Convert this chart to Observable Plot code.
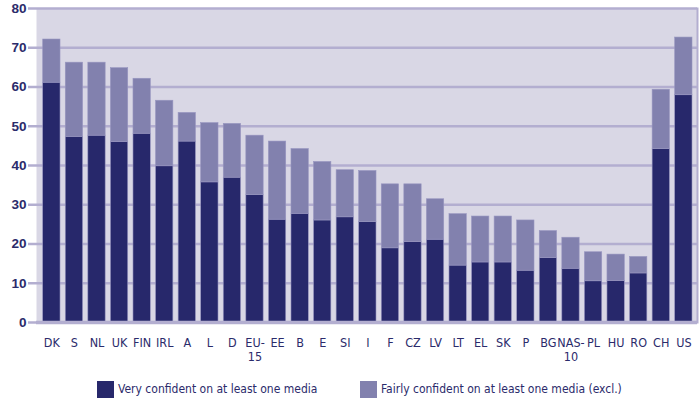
<!DOCTYPE html>
<html>
<head>
<meta charset="utf-8">
<script src="https://cdn.jsdelivr.net/npm/d3@7"></script>
<script src="https://cdn.jsdelivr.net/npm/@observablehq/plot@0.6"></script>
<style>
  html, body { margin: 0; padding: 0; background: #fff; }
  #chart { width: 700px; height: 399px; position: relative; overflow: hidden; }
  .legend { position: absolute; top: 381px; left: 0; width: 700px; height: 17px;
    font-family: "DejaVu Sans Condensed", "DejaVu Sans", sans-serif; font-stretch: condensed;
    font-size: 12px; color: #2b2b6b; }
  .legend .sw { position: absolute; top: 0; width: 17px; height: 17px; }
  .legend .lb { position: absolute; top: 1px; white-space: nowrap; }
</style>
</head>
<body>
<div id="chart"></div>
<script>
const categories = ["DK","S","NL","UK","FIN","IRL","A","L","D","EU-15","EE","B","E","SI","I","F","CZ","LV","LT","EL","SK","P","BG","NAS-10","PL","HU","RO","CH","US"];
const veryConfident = [61.1,47.3,47.6,46.0,48.1,39.8,46.1,35.7,36.9,32.5,26.2,27.7,26.0,26.8,25.6,18.9,20.5,21.1,14.5,15.3,15.3,13.2,16.4,13.7,10.5,10.6,12.5,44.2,57.9];
const fairlyConfident = [11.0,18.9,18.6,18.8,14.0,16.7,7.3,15.1,13.7,15.1,19.9,16.5,14.9,12.0,13.0,16.3,14.7,10.3,13.1,11.7,11.7,12.8,6.9,7.9,7.4,6.7,4.2,15.1,14.7];
const tickLabels = {"EU-15": "EU-\n15", "NAS-10": "NAS-\n10"};
const yTicks = [0,10,20,30,40,50,60,70,80];
const seriesNames = ["Very confident on at least one media", "Fairly confident on at least one media (excl.)"];
const colors = ["#27286b", "#8281ae"];

const data = [];
categories.forEach((c, i) => {
  data.push({country: c, series: seriesNames[0], value: veryConfident[i]});
  data.push({country: c, series: seriesNames[1], value: fairlyConfident[i]});
});

const grid = "#b3aed0";
const ink = "#2b2b6b";

const plot = Plot.plot({
  width: 700,
  height: 372,
  marginTop: 8,
  marginBottom: 50,
  marginLeft: 36,
  marginRight: 3,
  style: {fontFamily: "'DejaVu Sans Condensed', 'DejaVu Sans', sans-serif", background: "#fff"},
  x: {type: "band", domain: categories, range: [42.7, 692], paddingInner: 0.233, paddingOuter: 0, round: false},
  y: {domain: [0, 80]},
  color: {domain: seriesNames, range: colors},
  marks: [
    Plot.frame({fill: "#d9d7e5", stroke: null}),
    Plot.ruleY(yTicks.slice(1, -1), {stroke: grid, strokeWidth: 2.5}),
    Plot.barY(data, {x: "country", y: "value", fill: "series", stroke: "#9896c0", strokeWidth: 0.6, order: seriesNames}),
    Plot.ruleY([80], {stroke: grid, strokeWidth: 2.5}),
    Plot.ruleY([0], {stroke: grid, strokeWidth: 3.5}),
    Plot.ruleX([0], {x: () => 36, stroke: grid, strokeWidth: 2.5}),
    Plot.frame({stroke: grid, strokeWidth: 2, fill: null, anchor: "right"}),
    Plot.axisY({ticks: yTicks, tickSize: 8, tickPadding: 2, stroke: grid, strokeWidth: 2.5, fill: ink, fontSize: 13.5, fontWeight: "bold", label: null, fontFamily: "'Liberation Sans', Arial, sans-serif"}),
    Plot.axisX({tickSize: 0, tickPadding: 15, fill: ink, fontSize: 12.5, label: null, lineHeight: 1.1, tickFormat: d => tickLabels[d] ?? d})
  ]
});
document.getElementById("chart").appendChild(plot);

const legend = document.createElement("div");
legend.className = "legend";
legend.innerHTML = `
  <div class="sw" style="left:97px;background:${colors[0]}"></div>
  <div class="lb" style="left:118px">${seriesNames[0]}</div>
  <div class="sw" style="left:360px;background:${colors[1]}"></div>
  <div class="lb" style="left:381px">${seriesNames[1]}</div>`;
document.getElementById("chart").appendChild(legend);
</script>
</body>
</html>
